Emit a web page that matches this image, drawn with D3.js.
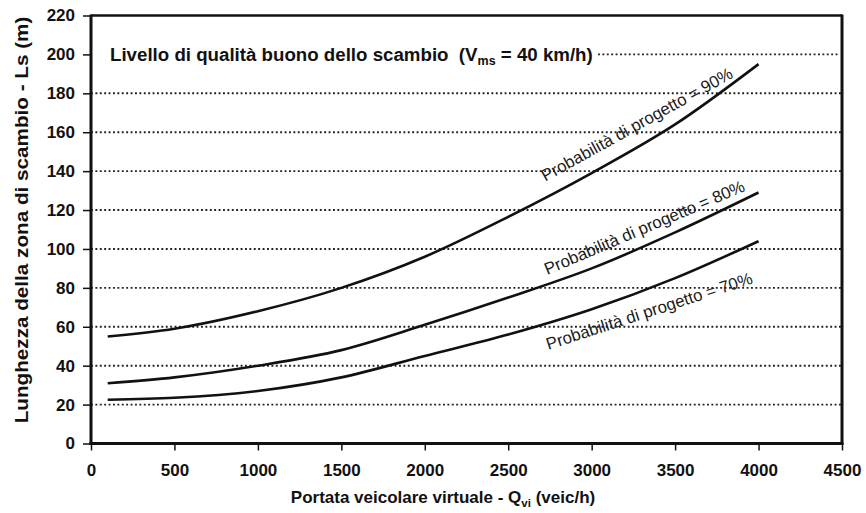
<!DOCTYPE html>
<html>
<head>
<meta charset="utf-8">
<script src="https://cdn.jsdelivr.net/npm/d3@7"></script>
<style>
  html, body { margin: 0; padding: 0; background: #fff; }
  svg { display: block; font-family: "Liberation Sans", Arial, sans-serif; }
</style>
</head>
<body>
<svg id="chart" width="866" height="513"></svg>
<script>
// ---- data ----
const flows = [100, 500, 1000, 1500, 2000, 2500, 3000, 3500, 4000];
const p90 = [55, 59, 68, 80, 96, 116.5, 139, 164, 195];
const p80 = [31, 34, 40, 48, 61, 75, 90, 108.5, 129];
const p70 = [22.5, 23.5, 27, 34, 45, 56, 69, 85, 104];
const seriesNames = ["Probabilità di progetto = 90%", "Probabilità di progetto = 80%", "Probabilità di progetto = 70%"];
const labelQ = [2722, 2734, 2740];
const labelV = [134.5, 86.6, 48.1];
const labelAngle = [-29, -23, -18];
const xTicks = [0, 500, 1000, 1500, 2000, 2500, 3000, 3500, 4000, 4500];
const yTicks = [0, 20, 40, 60, 80, 100, 120, 140, 160, 180, 200, 220];
const gridValues = [20, 40, 60, 80, 100, 120, 140, 160, 180];
const titleGridValue = 200;

const svg = d3.select("#chart");
const x = d3.scaleLinear().domain([0, 4500]).range([91, 842]);
const y = d3.scaleLinear().domain([0, 220]).range([443.5, 15.5]);

// dotted gridlines
svg.append("g").selectAll("line").data(gridValues).join("line")
  .attr("x1", x(0)).attr("x2", x(4500))
  .attr("y1", d => y(d)).attr("y2", d => y(d))
  .attr("stroke", "#222").attr("stroke-width", 1.9)
  .attr("stroke-dasharray", "1.9,2.5");
svg.append("line")
  .attr("x1", 598).attr("x2", x(4500) - 3)
  .attr("y1", y(titleGridValue)).attr("y2", y(titleGridValue))
  .attr("stroke", "#222").attr("stroke-width", 1.9)
  .attr("stroke-dasharray", "1.9,2.5");

// axes
const yAxis = d3.axisLeft(y).tickValues(yTicks).tickSize(8).tickPadding(8).tickFormat(d3.format("d"));
const gy = svg.append("g").attr("transform", `translate(${x(0)},0)`).call(yAxis);
gy.select(".domain").remove();
gy.selectAll(".tick line").attr("stroke", "#111").attr("stroke-width", 1.5);
gy.selectAll(".tick text").attr("font-size", 17).attr("font-weight", "bold").attr("fill", "#111")
  .attr("font-family", "Liberation Sans, Arial, sans-serif");

const xAxis = d3.axisBottom(x).tickValues(xTicks).tickSize(7).tickPadding(13).tickFormat(d3.format("d"));
const gx = svg.append("g").attr("transform", `translate(0,${y(0)})`).call(xAxis);
gx.select(".domain").remove();
gx.selectAll(".tick line").attr("stroke", "#111").attr("stroke-width", 1.5);
gx.selectAll(".tick text").attr("font-size", 17).attr("font-weight", "bold").attr("fill", "#111")
  .attr("font-family", "Liberation Sans, Arial, sans-serif");

// frame
svg.append("line").attr("x1", x(0)).attr("x2", x(4500)).attr("y1", y(220)).attr("y2", y(220))
  .attr("stroke", "#111").attr("stroke-width", 2.5);
svg.append("line").attr("x1", x(4500)).attr("x2", x(4500)).attr("y1", y(220) - 1).attr("y2", y(0) + 1)
  .attr("stroke", "#111").attr("stroke-width", 3);
svg.append("line").attr("x1", x(0)).attr("x2", x(0)).attr("y1", y(220) - 1).attr("y2", y(0) + 1.5)
  .attr("stroke", "#111").attr("stroke-width", 3);
svg.append("line").attr("x1", x(0) - 1.5).attr("x2", x(4500) + 1.5).attr("y1", y(0)).attr("y2", y(0))
  .attr("stroke", "#111").attr("stroke-width", 3);

// curves
const series = [p90, p80, p70];
const line = d3.line().x(d => x(d[0])).y(d => y(d[1])).curve(d3.curveMonotoneX);
svg.append("g").selectAll("path").data(series).join("path")
  .attr("d", s => line(flows.map((q, i) => [q, s[i]])))
  .attr("fill", "none").attr("stroke", "#111").attr("stroke-width", 2.6);

// curve labels
svg.append("g").selectAll("text").data(seriesNames).join("text")
  .attr("transform", (d, i) => `translate(${x(labelQ[i])},${y(labelV[i])}) rotate(${labelAngle[i]})`)
  .attr("font-size", 16.8).attr("fill", "#1a1a1a")
  .text(d => d);

// title inside plot
const title = svg.append("text").attr("x", 110).attr("y", 61)
  .attr("font-size", 18.7).attr("font-weight", "bold").attr("fill", "#111");
title.append("tspan").text("Livello di qualità buono dello scambio\u00a0\u00a0(V");
title.append("tspan").attr("font-size", 12.5).attr("dy", 4).text("ms");
title.append("tspan").attr("dy", -4).text(" = 40 km/h)");

// x-axis title
const xt = svg.append("text").attr("x", 443).attr("y", 503).attr("text-anchor", "middle")
  .attr("font-size", 17).attr("font-weight", "bold").attr("fill", "#111");
xt.append("tspan").text("Portata veicolare virtuale - Q");
xt.append("tspan").attr("font-size", 11.5).attr("dy", 4).text("vi");
xt.append("tspan").attr("dy", -4).text(" (veic/h)");

// y-axis title
svg.append("text")
  .attr("transform", "translate(28,220) rotate(-90) scale(1.15,1)")
  .attr("text-anchor", "middle")
  .attr("font-size", 18).attr("font-weight", "bold").attr("fill", "#111")
  .text("Lunghezza della zona di scambio - Ls (m)");
</script>
</body>
</html>
